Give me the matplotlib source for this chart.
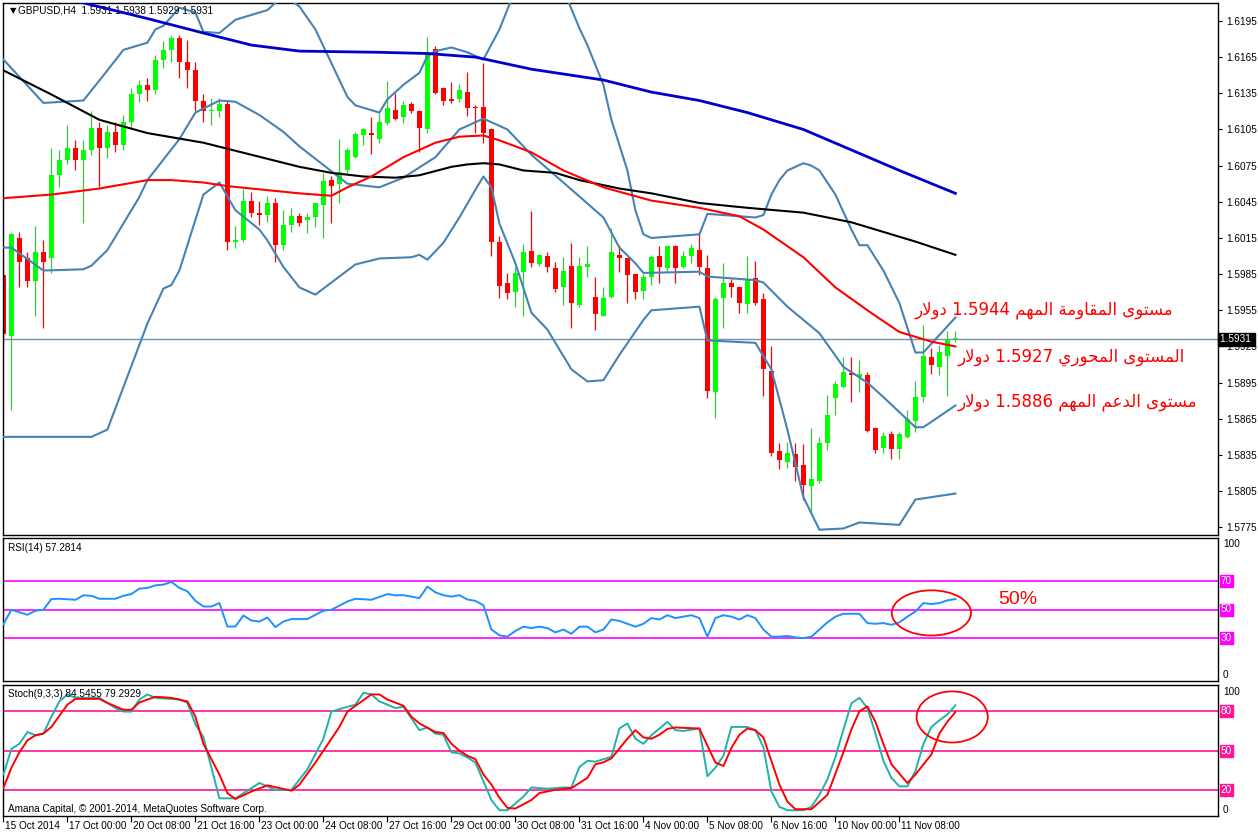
import re
import numpy as np
import matplotlib
matplotlib.use("Agg")
import matplotlib.pyplot as plt
from matplotlib.patches import Ellipse
import matplotlib.transforms as mtrans

# ---------------------------------------------------------------- data
title_text = "GBPUSD,H4  1.5931 1.5938 1.5929 1.5931"
rsi_title = "RSI(14) 57.2814"
stoch_title = "Stoch(9,3,3) 84.5455 79.2929"
copyright_text = "Amana Capital, \u00a9 2001-2014, MetaQuotes Software Corp."

time_label_bars = [0, 8, 16, 24, 32, 40, 48, 56, 64, 72, 80, 88, 96, 104, 112]
time_labels = ["15 Oct 2014", "17 Oct 00:00", "20 Oct 08:00", "21 Oct 16:00",
               "23 Oct 00:00", "24 Oct 08:00", "27 Oct 16:00", "29 Oct 00:00",
               "30 Oct 08:00", "31 Oct 16:00", "4 Nov 00:00", "5 Nov 08:00",
               "6 Nov 16:00", "10 Nov 00:00", "11 Nov 08:00"]

price_ticks = [1.6195, 1.6165, 1.6135, 1.6105, 1.6075, 1.6045, 1.6015, 1.5985,
               1.5955, 1.5925, 1.5895, 1.5865, 1.5835, 1.5805, 1.5775]
last_price = 1.5931

opens = [1.5984, 1.5934, 1.6015, 1.5998, 1.5979, 1.6003, 1.5998, 1.6067, 1.6080, 1.6090,
         1.6080, 1.6088, 1.6106, 1.6090, 1.6103, 1.6092, 1.6111, 1.6134, 1.6142, 1.6138,
         1.6163, 1.6171, 1.6181, 1.6161, 1.6154, 1.6129, 1.6120, 1.6120, 1.6126, 1.6012,
         1.6013, 1.6046, 1.6036, 1.6034, 1.6044, 1.6009, 1.6026, 1.6033, 1.6030, 1.6032,
         1.6042, 1.6063, 1.6060, 1.6071, 1.6082, 1.6100, 1.6102, 1.6097, 1.6110, 1.6121,
         1.6115, 1.6126, 1.6120, 1.6105, 1.6172, 1.6139, 1.6130, 1.6130, 1.6136, 1.6124,
         1.6124, 1.6105, 1.6012, 1.5978, 1.5970, 1.5987, 1.6004, 1.5993, 1.6000, 1.5990,
         1.5974, 1.5992, 1.5959, 1.5991, 1.5966, 1.5950, 1.5966, 1.6001, 1.5998, 1.5985,
         1.5971, 1.5983, 1.6000, 1.5990, 1.6008, 1.5991, 1.6000, 1.6005, 1.5990, 1.5887,
         1.5965, 1.5978, 1.5974, 1.5960, 1.5982, 1.5964, 1.5905, 1.5838, 1.5829, 1.5836,
         1.5827, 1.5809, 1.5813, 1.5845, 1.5882, 1.5891, 1.5903, 1.5900, 1.5901, 1.5857,
         1.5841, 1.5852, 1.5840, 1.5850, 1.5863, 1.5883, 1.5916, 1.5908, 1.5917, 1.5931]
highs = [1.5998, 1.6019, 1.6020, 1.6003, 1.6025, 1.6013, 1.6090, 1.6088, 1.6109, 1.6096,
         1.6096, 1.6120, 1.6111, 1.6109, 1.6111, 1.6117, 1.6139, 1.6146, 1.6148, 1.6167,
         1.6178, 1.6183, 1.6183, 1.6179, 1.6161, 1.6134, 1.6131, 1.6131, 1.6129, 1.6025,
         1.6056, 1.6053, 1.6046, 1.6050, 1.6048, 1.6038, 1.6040, 1.6036, 1.6036, 1.6044,
         1.6069, 1.6066, 1.6097, 1.6090, 1.6103, 1.6106, 1.6115, 1.6119, 1.6145, 1.6135,
         1.6129, 1.6128, 1.6121, 1.6182, 1.6174, 1.6140, 1.6144, 1.6143, 1.6153, 1.6125,
         1.6160, 1.6106, 1.6017, 1.5986, 1.5991, 1.6010, 1.6037, 1.6002, 1.6003, 1.5995,
         1.5999, 1.6011, 1.5999, 1.6008, 1.5983, 1.5974, 1.6023, 1.6009, 1.5998, 1.5985,
         1.5985, 1.6001, 1.6008, 1.6008, 1.6009, 1.6004, 1.6010, 1.6020, 1.6001, 1.5966,
         1.5994, 1.5981, 1.5975, 1.6000, 1.5996, 1.5969, 1.5925, 1.5845, 1.5846, 1.5845,
         1.5844, 1.5857, 1.5850, 1.5885, 1.5896, 1.5916, 1.5916, 1.5914, 1.5904, 1.5858,
         1.5854, 1.5855, 1.5854, 1.5872, 1.5896, 1.5943, 1.5924, 1.5926, 1.5938, 1.5938]
lows = [1.5926, 1.5872, 1.5974, 1.5974, 1.5950, 1.5940, 1.5986, 1.6057, 1.6076, 1.6071,
        1.6027, 1.6084, 1.6057, 1.6081, 1.6086, 1.6088, 1.6106, 1.6128, 1.6129, 1.6134,
        1.6156, 1.6161, 1.6148, 1.6139, 1.6120, 1.6111, 1.6109, 1.6115, 1.6005, 1.6007,
        1.6012, 1.6032, 1.6026, 1.6028, 1.5995, 1.6005, 1.6020, 1.6025, 1.6019, 1.6024,
        1.6015, 1.6027, 1.6044, 1.6069, 1.6081, 1.6092, 1.6085, 1.6094, 1.6109, 1.6113,
        1.6110, 1.6119, 1.6086, 1.6102, 1.6134, 1.6125, 1.6127, 1.6128, 1.6116, 1.6102,
        1.6094, 1.6000, 1.5965, 1.5964, 1.5958, 1.5950, 1.5991, 1.5992, 1.5987, 1.5970,
        1.5959, 1.5940, 1.5958, 1.5983, 1.5939, 1.5950, 1.5965, 1.5987, 1.5961, 1.5964,
        1.5964, 1.5976, 1.5978, 1.5988, 1.5978, 1.5990, 1.5994, 1.5984, 1.5882, 1.5866,
        1.5940, 1.5966, 1.5953, 1.5953, 1.5959, 1.5884, 1.5834, 1.5823, 1.5824, 1.5813,
        1.5798, 1.5787, 1.5812, 1.5839, 1.5868, 1.5891, 1.5879, 1.5887, 1.5854, 1.5837,
        1.5837, 1.5832, 1.5832, 1.5849, 1.5854, 1.5879, 1.5902, 1.5901, 1.5884, 1.5929]
closes = [1.5935, 1.6018, 1.5995, 1.5979, 1.6003, 1.5995, 1.6067, 1.6080, 1.6090, 1.6080,
          1.6088, 1.6106, 1.6090, 1.6103, 1.6092, 1.6111, 1.6134, 1.6142, 1.6138, 1.6163,
          1.6171, 1.6181, 1.6161, 1.6154, 1.6129, 1.6120, 1.6120, 1.6126, 1.6012, 1.6013,
          1.6046, 1.6036, 1.6034, 1.6044, 1.6009, 1.6026, 1.6033, 1.6027, 1.6032, 1.6044,
          1.6062, 1.6058, 1.6070, 1.6088, 1.6101, 1.6105, 1.6100, 1.6111, 1.6123, 1.6114,
          1.6125, 1.6120, 1.6106, 1.6169, 1.6135, 1.6129, 1.6129, 1.6138, 1.6123, 1.6123,
          1.6102, 1.6012, 1.5975, 1.5969, 1.5986, 1.6003, 1.5994, 1.6001, 1.5991, 1.5973,
          1.5988, 1.5961, 1.5992, 1.5993, 1.5952, 1.5965, 1.6003, 1.5998, 1.5984, 1.5970,
          1.5983, 1.5999, 1.5991, 1.6008, 1.5990, 1.6000, 1.6007, 1.5991, 1.5888, 1.5964,
          1.5978, 1.5974, 1.5961, 1.5981, 1.5961, 1.5906, 1.5837, 1.5831, 1.5837, 1.5825,
          1.5810, 1.5815, 1.5845, 1.5868, 1.5894, 1.5904, 1.5901, 1.5902, 1.5855, 1.5839,
          1.5851, 1.5840, 1.5852, 1.5865, 1.5883, 1.5917, 1.5910, 1.5920, 1.5930, 1.5931]

# moving averages / bands read at bar positions (bar index, price)
ma_blue_bars = [0, 10, 18, 25, 31, 37, 47, 53, 59, 66, 75, 81, 87, 93, 100, 106, 112, 119]
ma_blue_vals = [1.6227, 1.6210, 1.6197, 1.6185, 1.6175, 1.6170, 1.6169, 1.6168, 1.6165,
                1.6155, 1.6146, 1.6136, 1.6129, 1.6119, 1.6105, 1.6088, 1.6071, 1.6052]
ma_black_bars = [0, 6, 12, 18, 25, 31, 37, 41, 45, 49, 52, 56, 58, 60, 62, 65, 69, 72, 77,
                 81, 87, 93, 100, 106, 109, 114, 119]
ma_black_vals = [1.6154, 1.6134, 1.6113, 1.6102, 1.6094, 1.6084, 1.6074, 1.6069, 1.6066,
                 1.6065, 1.6067, 1.6074, 1.6076, 1.6077, 1.6076, 1.6071, 1.6069, 1.6063,
                 1.6056, 1.6052, 1.6044, 1.6040, 1.6036, 1.6028, 1.6022, 1.6012, 1.6001]
ma_red_bars = [0, 6, 12, 18, 21, 25, 28, 37, 41, 43, 46, 50, 54, 57, 60, 62, 66, 70, 75,
               81, 87, 92, 95, 100, 104, 108, 112, 116, 119]
ma_red_vals = [1.6048, 1.6051, 1.6056, 1.6063, 1.6063, 1.6061, 1.6058, 1.6052, 1.6050,
               1.6057, 1.6066, 1.6082, 1.6094, 1.6099, 1.6100, 1.6096, 1.6086, 1.6071,
               1.6057, 1.6046, 1.6040, 1.6033, 1.6022, 1.5999, 1.5974, 1.5955, 1.5937,
               1.5929, 1.5925]
bb_up_bars = [0, 5, 10, 13, 15, 18, 19, 20, 22, 24, 25, 27, 29, 33, 34, 35, 36, 37, 39, 43,
              44, 47, 48, 50, 52, 53, 54, 56, 58, 60, 62, 64, 66, 68, 70, 72, 73, 75, 76,
              78, 79, 80, 81, 87, 88, 94, 95, 96, 97, 98, 100, 101, 102, 104, 106, 107,
              108, 110, 112, 114, 115, 119]
bb_up_vals = [1.6163, 1.6127, 1.6129, 1.6154, 1.6171, 1.6177, 1.6188, 1.6191, 1.6206,
              1.6202, 1.6186, 1.6185, 1.6196, 1.6204, 1.6210, 1.6217, 1.6212, 1.6207,
              1.6188, 1.6132, 1.6125, 1.6119, 1.6130, 1.6142, 1.6152, 1.6166, 1.6170,
              1.6173, 1.6169, 1.6163, 1.6188, 1.6221, 1.6237, 1.6237, 1.6221, 1.6189,
              1.6175, 1.6142, 1.6113, 1.6071, 1.6038, 1.6018, 1.6015, 1.6018, 1.6035,
              1.6032, 1.6034, 1.6051, 1.6063, 1.6071, 1.6077, 1.6075, 1.6071, 1.6051,
              1.6022, 1.6009, 1.6009, 1.5988, 1.5961, 1.5920, 1.5920, 1.5949]
bb_mid_bars = [0, 1, 5, 10, 11, 13, 15, 17, 18, 20, 22, 24, 27, 29, 32, 35, 37, 43, 47, 50,
               54, 57, 60, 61, 63, 66, 70, 75, 77, 79, 80, 87, 88, 94, 95, 98, 102, 105,
               108, 110, 114, 115, 119]
bb_mid_vals = [1.6007, 1.6007, 1.5988, 1.5989, 1.5992, 1.6005, 1.6027, 1.6049, 1.6063,
               1.6080, 1.6097, 1.6119, 1.6129, 1.6128, 1.6117, 1.6103, 1.6091, 1.6060,
               1.6057, 1.6065, 1.6082, 1.6105, 1.6114, 1.6111, 1.6105, 1.6084, 1.6061,
               1.6032, 1.6007, 1.5994, 1.5986, 1.5987, 1.5983, 1.5980, 1.5978, 1.5958,
               1.5936, 1.5908, 1.5895, 1.5883, 1.5858, 1.5858, 1.5876]
bb_low_bars = [0, 11, 13, 18, 20, 21, 22, 25, 27, 29, 32, 33, 35, 37, 39, 42, 44, 47, 51,
               52, 53, 55, 57, 59, 60, 61, 62, 64, 66, 68, 71, 73, 75, 77, 80, 81, 87, 88,
               94, 96, 98, 100, 102, 105, 107, 112, 114, 119]
bb_low_vals = [1.5850, 1.5850, 1.5856, 1.5944, 1.5973, 1.5976, 1.5988, 1.6051, 1.6061,
               1.6038, 1.6022, 1.6013, 1.5991, 1.5974, 1.5968, 1.5983, 1.5993, 1.5998,
               1.5999, 1.6001, 1.5997, 1.6011, 1.6032, 1.6055, 1.6066, 1.6057, 1.6027,
               1.5994, 1.5953, 1.5939, 1.5906, 1.5896, 1.5897, 1.5918, 1.5947, 1.5955,
               1.5958, 1.5930, 1.5928, 1.5906, 1.5856, 1.5800, 1.5773, 1.5774, 1.5779,
               1.5777, 1.5798, 1.5803]

rsi_bars = [0, 1, 3, 4, 5, 6, 7, 9, 10, 11, 12, 14, 15, 16, 17, 18, 19, 20, 21, 22, 23, 24,
            25, 26, 27, 28, 29, 30, 31, 32, 33, 34, 35, 36, 38, 39, 40, 41, 43, 44, 46, 48,
            49, 50, 52, 53, 54, 55, 56, 57, 58, 59, 60, 61, 62, 63, 64, 65, 66, 67, 68, 69,
            70, 71, 72, 73, 74, 75, 76, 77, 78, 79, 80, 81, 82, 83, 84, 85, 86, 87, 88, 89,
            90, 91, 92, 93, 94, 95, 96, 97, 98, 99, 100, 101, 102, 103, 104, 105, 106, 107,
            108, 109, 110, 111, 112, 113, 114, 115, 116, 117, 118, 119]
rsi_vals = [39.8, 49.8, 46.3, 49.1, 49.8, 57.3, 57.5, 56.8, 59.9, 59.6, 57.5, 57.5, 59.6,
            60.8, 64.6, 65.1, 66.9, 67.4, 69.3, 65.1, 62.7, 56.1, 52.1, 52.1, 54.5, 38.1,
            38.1, 45.8, 42.3, 41.6, 44.4, 37.7, 41.6, 43.3, 43.3, 46.3, 49.1, 49.8, 55.6,
            57.5, 56.8, 60.8, 59.9, 60.0, 58.0, 66.0, 62.0, 60.0, 59.0, 60.0, 57.0, 56.0,
            53.0, 36.0, 32.0, 31.0, 35.0, 38.0, 37.0, 38.0, 37.0, 34.0, 36.0, 33.0, 38.0,
            38.0, 34.0, 36.0, 43.0, 42.0, 40.0, 38.0, 40.0, 44.0, 43.0, 46.0, 44.0, 45.0,
            46.0, 44.0, 31.0, 44.0, 46.0, 45.0, 43.0, 46.0, 44.0, 36.0, 31.0, 31.0, 31.5,
            30.5, 30.0, 31.0, 36.0, 41.0, 45.0, 47.0, 47.0, 47.0, 40.5, 40.0, 40.5, 39.3,
            41.0, 45.0, 48.6, 54.5, 53.8, 54.5, 56.4, 57.3]

stk_bars = [0, 1, 2, 3, 4, 5, 6, 7, 8, 9, 12, 14, 15, 16, 17, 18, 19, 22, 23, 24, 25, 26,
            27, 29, 31, 32, 34, 36, 37, 38, 40, 41, 42, 44, 45, 46, 47, 49, 50, 51, 52, 53,
            54, 55, 56, 57, 58, 59, 60, 61, 62, 63, 64, 65, 66, 68, 70, 71, 72, 73, 74, 76,
            77, 78, 79, 80, 81, 83, 84, 85, 87, 88, 89, 90, 91, 93, 94, 95, 96, 97, 98, 100,
            101, 102, 103, 104, 105, 106, 107, 108, 109, 110, 111, 112, 113, 114, 115, 116,
            117, 118, 119]
stk_vals = [31.7, 51.2, 55.1, 64.1, 61.6, 62.9, 75.8, 87.5, 92.8, 90.2, 90.2, 82.4, 79.7,
            79.7, 88.9, 92.8, 90.2, 88.9, 86.3, 70.0, 60.2, 36.9, 13.5, 13.5, 21.3, 25.2,
            20.0, 20.0, 27.8, 35.6, 59.0, 79.7, 81.6, 85.0, 94.1, 92.8, 87.5, 82.4, 83.4,
            74.6, 65.5, 67.6, 62.9, 62.1, 48.6, 47.8, 44.7, 40.8, 26.5, 12.2, 4.4, 4.4, 9.6,
            14.8, 21.8, 20.8, 21.8, 21.8, 37.4, 42.1, 41.5, 45.2, 66.8, 70.7, 59.0, 55.1,
            61.6, 71.9, 65.5, 64.9, 66.8, 30.4, 36.9, 46.0, 68.0, 68.0, 65.5, 52.5, 18.7,
            7.0, 4.4, 4.4, 7.0, 16.1, 28.0, 45.0, 66.0, 86.0, 90.2, 82.4, 62.9, 42.1, 29.1,
            22.6, 22.6, 34.3, 55.0, 68.0, 73.0, 77.5, 84.5]
std_bars = [0, 1, 2, 3, 4, 5, 6, 8, 9, 12, 13, 15, 16, 17, 19, 21, 23, 24, 25, 27, 28, 29,
            31, 33, 36, 37, 39, 42, 43, 46, 47, 48, 50, 51, 52, 54, 55, 56, 57, 58, 59, 60,
            61, 62, 63, 64, 66, 67, 69, 71, 73, 74, 75, 76, 78, 79, 80, 81, 82, 83, 84, 85,
            87, 89, 90, 91, 92, 93, 94, 95, 96, 97, 98, 99, 101, 103, 105, 106, 107, 108,
            109, 110, 111, 113, 114, 116, 117, 118, 119]
std_vals = [21.3, 36.9, 48.6, 57.7, 61.6, 62.9, 68.0, 85.0, 89.4, 89.4, 86.3, 81.1, 81.1,
            86.7, 91.0, 90.2, 87.5, 75.8, 55.1, 31.7, 17.4, 13.0, 18.7, 23.4, 19.3, 23.9,
            40.8, 68.0, 79.7, 92.8, 92.8, 88.9, 84.2, 75.8, 70.7, 64.1, 63.4, 55.1, 49.9,
            46.0, 43.4, 31.7, 24.0, 14.0, 6.2, 5.7, 12.2, 17.5, 20.0, 21.3, 29.1, 39.5,
            41.0, 44.0, 59.0, 65.5, 60.0, 59.0, 62.0, 66.5, 67.6, 67.3, 66.8, 40.8, 38.2,
            52.0, 62.0, 66.8, 65.5, 60.0, 42.0, 24.0, 11.0, 5.2, 5.2, 16.1, 48.6, 66.0,
            80.0, 83.6, 72.0, 55.0, 39.5, 25.2, 31.7, 47.0, 63.0, 72.0, 79.3]

rsi_levels = [70, 50, 30]
stoch_levels = [80, 50, 20]

annotation_texts = ["مستوى المقاومة المهم 1.5944 دولار",
                    "المستوى المحوري 1.5927 دولار",
                    "مستوى الدعم المهم 1.5886 دولار"]
annotation_prices = [1.5955, 1.5916, 1.5879]
rsi_note = "50%"

# ---------------------------------------------------------------- arabic shaping
AR_FORMS = {
    '\u0627': ('\uFE8D', '\uFE8E', None, None),
    '\u0629': ('\uFE93', '\uFE94', None, None),
    '\u062A': ('\uFE95', '\uFE96', '\uFE97', '\uFE98'),
    '\u062D': ('\uFEA1', '\uFEA2', '\uFEA3', '\uFEA4'),
    '\u062F': ('\uFEA9', '\uFEAA', None, None),
    '\u0631': ('\uFEAD', '\uFEAE', None, None),
    '\u0633': ('\uFEB1', '\uFEB2', '\uFEB3', '\uFEB4'),
    '\u0639': ('\uFEC9', '\uFECA', '\uFECB', '\uFECC'),
    '\u0642': ('\uFED5', '\uFED6', '\uFED7', '\uFED8'),
    '\u0644': ('\uFEDD', '\uFEDE', '\uFEDF', '\uFEE0'),
    '\u0645': ('\uFEE1', '\uFEE2', '\uFEE3', '\uFEE4'),
    '\u0647': ('\uFEE9', '\uFEEA', '\uFEEB', '\uFEEC'),
    '\u0648': ('\uFEED', '\uFEEE', None, None),
    '\u0649': ('\uFEEF', '\uFEF0', None, None),
    '\u064A': ('\uFEF1', '\uFEF2', '\uFEF3', '\uFEF4'),
}


def _dual(ch):
    return ch in AR_FORMS and AR_FORMS[ch][2] is not None


def shape_arabic(s):
    res = []
    i, n = 0, len(s)
    while i < n:
        c = s[i]
        if c not in AR_FORMS:
            res.append(c)
            i += 1
            continue
        jp = i > 0 and _dual(s[i - 1])
        if c == '\u0644' and i + 1 < n and s[i + 1] == '\u0627':
            res.append('\uFEFC' if jp else '\uFEFB')
            i += 2
            continue
        jn = _dual(c) and i + 1 < n and s[i + 1] in AR_FORMS
        iso, fin, ini, med = AR_FORMS[c]
        res.append(med if (jp and jn) else fin if jp else ini if jn else iso)
        i += 1
    shaped = ''.join(res)
    toks = re.findall(r'[0-9.]+|[^0-9.]+', shaped)
    toks = [t if re.fullmatch(r'[0-9.]+', t) else t[::-1] for t in toks]
    return ''.join(reversed(toks))


# ---------------------------------------------------------------- figure
W, H = 1258, 835
fig = plt.figure(figsize=(W / 100, H / 100), dpi=100)
fig.patch.set_facecolor('white')
LBL = dict(family=['Liberation Sans', 'DejaVu Sans'], fontsize=7.2)


def add_ax(l, t, r, b):
    return fig.add_axes([l / W, 1 - b / H, (r - l) / W, (b - t) / H])


X0 = (3 - 3.4) / 8
X1 = (1218 - 3.4) / 8
ax = add_ax(3, 3, 1218, 535)
ax_rsi = add_ax(3, 538, 1218, 681)
ax_st = add_ax(3, 685, 1218, 816)

for a in (ax, ax_rsi, ax_st):
    a.set_xlim(X0, X1)
    a.set_xticks([])
    for s in a.spines.values():
        s.set_linewidth(1.0)
        s.set_color('black')
    a.yaxis.tick_right()
    a.tick_params(axis='y', direction='out', length=3, width=0.8, pad=3,
                  labelsize=7.2, colors='black')

# ---- main chart
ax.set_ylim(1.57686, 1.62099)
ax.set_yticks(price_ticks)
ax.set_yticklabels(["%.4f" % v for v in price_ticks], family=['Liberation Sans'])

ax.axhline(last_price, color='#7890a8', lw=1.0, zorder=1)

o = np.array(opens); h = np.array(highs); l = np.array(lows); c = np.array(closes)
idx = np.arange(len(o))
up = c >= o
wick_col = np.where(up, '#3cc83c', '#ff0000')
body_col = np.where(up, '#00ff00', '#ff0000')
ax.vlines(idx, l, h, colors=list(wick_col), linewidth=0.9, zorder=2)
bh = np.maximum(np.abs(c - o), 0.00009)
ax.bar(idx, bh, bottom=np.minimum(o, c), width=0.62, color=list(body_col),
       linewidth=0, zorder=2.1)

ax.plot(bb_up_bars, bb_up_vals, color='#4682b4', lw=1.5, zorder=3)
ax.plot(bb_mid_bars, bb_mid_vals, color='#4682b4', lw=1.5, zorder=3)
ax.plot(bb_low_bars, bb_low_vals, color='#4682b4', lw=1.5, zorder=3)
ax.plot(ma_black_bars, ma_black_vals, color='black', lw=1.5, zorder=3.2)
ax.plot(ma_red_bars, ma_red_vals, color='#ff0000', lw=1.5, zorder=3.3)
ax.plot(ma_blue_bars, ma_blue_vals, color='#0000cd', lw=2.0, zorder=3.4)

# current price box
ytr = mtrans.blended_transform_factory(ax.transAxes, ax.transData)
ax.text(1.0015, last_price, "1.5931 ", transform=ytr, ha='left', va='center',
        color='white', fontsize=7.2, family=['Liberation Sans'],
        bbox=dict(boxstyle='square,pad=0.15', fc='black', ec='black'), zorder=10,
        clip_on=False)

ax.text(0.0085, 0.985, "\u25bc", transform=ax.transAxes, ha='center', va='center',
        fontsize=6, family=['DejaVu Sans'])
ax.text(0.0125, 0.985, title_text, transform=ax.transAxes, ha='left', va='center', **LBL)

annotation_x = [113.95, 119.3, 119.3]
for txt, xb, p in zip(annotation_texts, annotation_x, annotation_prices):
    ax.text(xb, p, shape_arabic(txt), ha='left', va='center', color='#ff0000',
            fontsize=12.0, family=['DejaVu Sans'], zorder=6)

# ---- RSI
ax_rsi.set_ylim(0, 100)
ax_rsi.set_yticks([])
for lv in rsi_levels:
    ax_rsi.axhline(lv, color='#ff00ff', lw=1.2, zorder=1)
ax_rsi.plot(rsi_bars, rsi_vals, color='#1e90ff', lw=1.4, zorder=3)
rtr = mtrans.blended_transform_factory(ax_rsi.transAxes, ax_rsi.transData)
ax_rsi.text(1.004, 95.5, "100", transform=rtr, ha='left', va='center', **LBL)
ax_rsi.text(1.004, 4.0, "0", transform=rtr, ha='left', va='center', **LBL)
for lv in rsi_levels:
    ax_rsi.text(1.0022, lv, str(lv), transform=rtr, ha='left', va='center', color='white',
                bbox=dict(boxstyle='square,pad=0.1', fc='#ff00ff', ec='#ff00ff'),
                clip_on=False, **LBL)
ax_rsi.text(0.0045, 0.93, rsi_title, transform=ax_rsi.transAxes, ha='left', va='center', **LBL)
ax_rsi.add_patch(Ellipse((116.0, 47.6), 9.9, 31.6, fill=False, ec='#ff0000', lw=1.3, zorder=5))
ax_rsi.text(124.3, 57.3, rsi_note, ha='left', va='center', color='#ff0000', fontsize=14,
            family=['Liberation Sans'], zorder=6)

# ---- Stochastic
ax_st.set_ylim(0, 100)
ax_st.set_yticks([])
for lv in stoch_levels:
    ax_st.axhline(lv, color='#ff1493', lw=1.2, zorder=1)
ax_st.plot(stk_bars, stk_vals, color='#20b2aa', lw=1.4, zorder=3)
ax_st.plot(std_bars, std_vals, color='#ff0000', lw=1.4, zorder=3.1)
str_ = mtrans.blended_transform_factory(ax_st.transAxes, ax_st.transData)
ax_st.text(1.004, 95.0, "100", transform=str_, ha='left', va='center', **LBL)
ax_st.text(1.004, 4.6, "0", transform=str_, ha='left', va='center', **LBL)
for lv in stoch_levels:
    ax_st.text(1.0022, lv, str(lv), transform=str_, ha='left', va='center', color='white',
               bbox=dict(boxstyle='square,pad=0.1', fc='#ff1493', ec='#ff1493'),
               clip_on=False, **LBL)
ax_st.text(0.0045, 0.93, stoch_title, transform=ax_st.transAxes, ha='left', va='center', **LBL)
ax_st.text(0.0045, 0.05, copyright_text, transform=ax_st.transAxes, ha='left', va='center', **LBL)
ax_st.add_patch(Ellipse((118.6, 75.6), 8.9, 39.0, fill=False, ec='#ff0000', lw=1.3, zorder=5))

# time axis
ax_st.set_xticks(time_label_bars)
ax_st.set_xticklabels([])
ax_st.tick_params(axis='x', direction='out', length=4, width=0.8, colors='black')
xtr = mtrans.blended_transform_factory(ax_st.transData, ax_st.transAxes)
for b, t in zip(time_label_bars, time_labels):
    ax_st.text(b + 0.2, -0.075, t, transform=xtr, ha='left', va='center', clip_on=False, **LBL)

fig.savefig("out.png", dpi=100, facecolor='white')
